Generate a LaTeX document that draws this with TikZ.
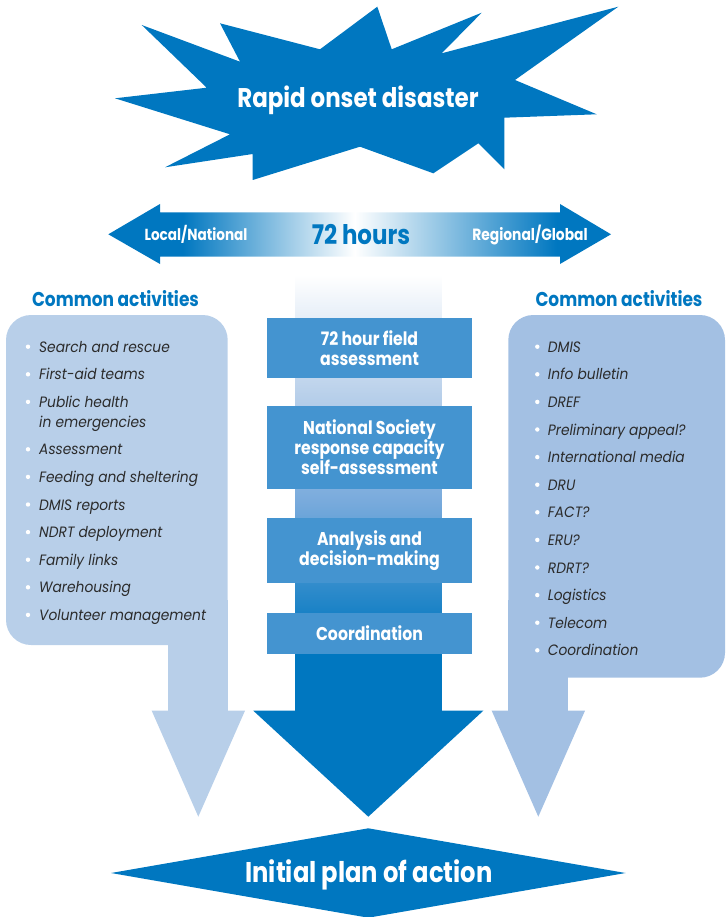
\documentclass[tikz,border=0pt]{standalone}
\usepackage{fontspec}
\setmainfont{Poppins}
\newfontfamily\hf{Poppins}[FakeStretch=0.85]
\newfontfamily\itf{Poppins}[FakeStretch=0.92]
\definecolor{cBlue}{RGB}{0,119,192}
\definecolor{cBox}{RGB}{68,148,208}
\definecolor{cLeft}{RGB}{184,207,233}
\definecolor{cRight}{RGB}{163,192,227}
\definecolor{cText}{RGB}{43,43,43}
\definecolor{cMid}{RGB}{120,170,220}
\definecolor{cPale}{RGB}{188,210,235}
\pgfdeclarehorizontalshading{hoursshade}{100bp}{color(0bp)=(cBlue); color(32.4bp)=(cBlue); color(49.5bp)=(white); color(69.6bp)=(cBlue); color(100bp)=(cBlue)}
\pgfdeclareverticalshading{colshade}{100bp}{color(0bp)=(cBlue); color(33bp)=(cBlue); color(49bp)=(cMid); color(62bp)=(cPale); color(75bp)=(white); color(100bp)=(white)}
\begin{document}
\begin{tikzpicture}[x=1pt,y=-1pt,
  boxnode/.style={fill=cBox, text=white, font=\hf\bfseries\fontsize{18.5}{20}\selectfont, align=center, minimum width=205.6pt, inner sep=0pt},
  item/.style={anchor=base west, text=cText, font=\itf\itshape\fontsize{15}{18}\selectfont, inner sep=0pt},
  head/.style={text=cBlue, font=\hf\bfseries\fontsize{20}{22}\selectfont},
  dot/.style={circle, fill=white, inner sep=0pt, minimum size=4.4pt}]
\useasboundingbox (0,0) rectangle (725,917);
% star
\fill[cBlue] (115,98.3) -- (206.7,87.7) -- (141.7,25) -- (240,61.7) -- (220,23.3) -- (320,49.3) -- (377.3,6.7) -- (391.7,49.3) -- (481.7,12.7) -- (441.7,53.3) -- (618.3,6.7) -- (515,80) -- (596.7,114.3) -- (504.3,117.7) -- (504.3,169.3) -- (478.3,143.3) -- (433.3,173.3) -- (360,146.7) -- (252.7,180) -- (252.7,154) -- (165,167.3) -- (230,134.3) -- cycle;
\node[text=white, font=\hf\bfseries\fontsize{27}{30}\selectfont] (star) at (358,100) {Rapid onset disaster};
% double arrow
\shade[shading=hoursshade] (108.3,234.3) -- (160,204) -- (160,212.3) -- (560,212.3) -- (560,204) -- (611,234.3) -- (560,264) -- (560,256.7) -- (160,256.7) -- (160,264) -- cycle;
\node[text=white, font=\hf\bfseries\fontsize{16}{18}\selectfont] (loc) at (196,234.5) {Local/National};
\node[text=cBlue, font=\hf\bfseries\fontsize{27}{30}\selectfont] (hrs) at (361,235) {72 hours};
\node[text=white, font=\hf\bfseries\fontsize{16.3}{18}\selectfont] (reg) at (530,234.5) {Regional/Global};
% central column
\shade[shading=colshade] (295.5,275) rectangle (441.7,712);
\fill[cBlue] (253.3,710.7) -- (483.3,710.7) -- (368.3,816.7) -- cycle;
% left panel
\fill[cLeft, rounded corners=25pt] (6,315) rectangle (227.7,645);
\fill[cLeft] (167.7,600) rectangle (227.7,711);
\fill[cLeft] (151.7,710.7) -- (245,710.7) -- (198.3,816.7) -- cycle;
% right panel
\fill[cRight, rounded corners=25pt] (508.3,315) rectangle (725,677.7);
\fill[cRight] (508.3,600) rectangle (567.7,711);
\fill[cRight] (491.7,710.7) -- (585,710.7) -- (538.3,816.7) -- cycle;
% headings
\node[head] (lh) at (115.5,299) {Common activities};
\node[head] (rh) at (619,299) {Common activities};
% boxes
\node[boxnode, minimum height=60pt] (b1) at (369.5,347.7) {72 hour field\\assessment};
\node[boxnode, minimum height=83pt] (b2) at (369.5,447.5) {National Society\\response capacity\\self-assessment};
\node[boxnode, minimum height=65pt] (b3) at (369.5,550.2) {Analysis and\\decision-making};
\node[boxnode, minimum height=41.3pt] (b4) at (369.5,633.3) {Coordination};
% left items
\foreach \t/\y [count=\i] in {Search and rescue/346.7, First-aid teams/374.3, Public health/401.9, Assessment/449.3, Feeding and sheltering/476.9, DMIS reports/504.5, NDRT deployment/532.1, Family links/559.7, Warehousing/587.3, Volunteer management/614.9}{
  \node[dot] (ld\i) at (28,\y) {};
  \node[item] (l\i) at (39,\y+5.5) {\t};
}
\node[item] (l3b) at (39,421.7+5.5) {in emergencies};
% right items
\foreach \t [count=\i] in {DMIS, Info bulletin, DREF, Preliminary appeal?, International media, DRU, FACT?, ERU?, RDRT?, Logistics, Telecom, Coordination}{
  \pgfmathsetmacro{\yy}{346.7+27.6*(\i-1)}
  \node[dot] (rd\i) at (537.3,\yy) {};
  \node[item] (r\i) at (547.7,\yy+5.5) {\t};
}
% bottom diamond
\fill[cBlue] (111,873) -- (368.3,828.3) -- (625.6,873) -- (368.3,917.7) -- cycle;
\node[text=white, font=\hf\bfseries\fontsize{28.5}{30}\selectfont] (plan) at (369,875) {Initial plan of action};
\end{tikzpicture}
\end{document}
